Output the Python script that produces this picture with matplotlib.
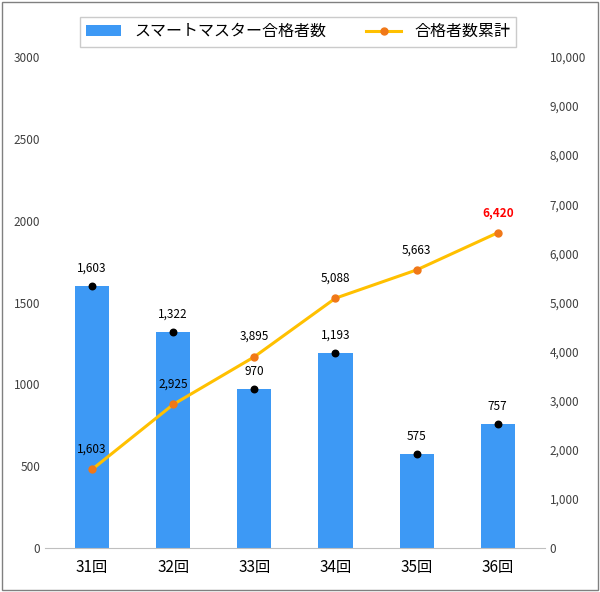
import matplotlib.pyplot as plt
from matplotlib.patches import Rectangle

plt.rcParams['font.family'] = ['Noto Sans CJK JP']

# data
categories = ['31回', '32回', '33回', '34回', '35回', '36回']
passers = [1603, 1322, 970, 1193, 575, 757]
cumulative = [1603, 2925, 3895, 5088, 5663, 6420]

fig = plt.figure(figsize=(6, 5.92), dpi=100)
ax = fig.add_axes([0.075, 0.074, 0.833, 0.83])
ax2 = ax.twinx()

x = range(len(categories))
ax.bar(x, passers, width=0.42, color='#3d99f5', label='スマートマスター合格者数', zorder=2)
ax.scatter(x, passers, color='black', s=22, zorder=3)
for i, v in enumerate(passers):
    ax.text(i, v + 70, f'{v:,}', ha='center', va='bottom', fontsize=8.5)

ax2.plot(x, cumulative, color='#ffc000', lw=2.2, marker='o', ms=5,
         mfc='#f07818', mec='#f07818', label='合格者数累計', zorder=4)
for i, v in enumerate(cumulative):
    last = i == len(cumulative) - 1
    ax2.text(i, v + 280, f'{v:,}', ha='center', va='bottom', fontsize=8.5,
             color='red' if last else 'black', fontweight='bold' if last else 'normal')

ax.set_xlim(-0.58, 5.58)
ax.set_ylim(0, 3000)
ax.set_yticks(range(0, 3001, 500))
ax2.set_ylim(0, 10000)
ax2.set_yticks(range(0, 10001, 1000))
ax2.set_yticklabels([f'{t:,}' for t in range(0, 10001, 1000)])
ax.set_xticks(list(x))
ax.set_xticklabels(categories, fontsize=11)

for a in (ax, ax2):
    for s in ('top', 'left', 'right'):
        a.spines[s].set_visible(False)
    a.tick_params(axis='y', length=0, labelsize=8.5, colors='#404040')
    a.spines['bottom'].set_color('#bfbfbf')
ax.tick_params(axis='x', length=0, pad=8)
ax2.spines['bottom'].set_visible(False)

h1, l1 = ax.get_legend_handles_labels()
h2, l2 = ax2.get_legend_handles_labels()
fig.legend(h1 + h2, l1 + l2, loc='upper center', bbox_to_anchor=(0.497, 0.985),
           ncol=2, fontsize=11.5, frameon=True, fancybox=False, edgecolor='#bfbfbf',
           handlelength=2.2, columnspacing=2.5)

fig.patches.append(Rectangle((0.003, 0.003), 0.994, 0.994, transform=fig.transFigure,
                             fill=False, edgecolor='#808080', lw=1))

fig.savefig('out.png', dpi=100)
